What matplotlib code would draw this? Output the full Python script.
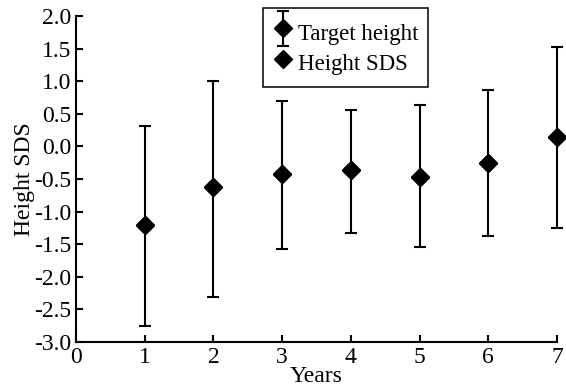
import matplotlib
matplotlib.use('Agg')
import matplotlib.pyplot as plt
from matplotlib.container import ErrorbarContainer
from matplotlib.legend_handler import HandlerErrorbar

plt.rcParams['font.family'] = ['Liberation Serif', 'DejaVu Serif']
plt.rcParams['axes.unicode_minus'] = False

years = [1, 2, 3, 4, 5, 6, 7]
height_sds = [-1.20, -0.63, -0.42, -0.36, -0.47, -0.26, 0.14]
target_low = [-2.75, -2.31, -1.57, -1.33, -1.55, -1.38, -1.25]
target_high = [0.32, 1.01, 0.69, 0.56, 0.63, 0.87, 1.52]

yerr_low = [m - lo for m, lo in zip(height_sds, target_low)]
yerr_high = [hi - m for m, hi in zip(height_sds, target_high)]

fig = plt.figure(figsize=(5.66, 3.87), dpi=100)
ax = fig.add_axes([0.1343, 0.1163, 0.8497, 0.8424])

eb = ax.errorbar(years, height_sds, yerr=[yerr_low, yerr_high], fmt='D', color='black',
                 ms=8.7, elinewidth=1.5, capsize=4, capthick=1.5, label='Target height',
                 clip_on=False)
pts, = ax.plot(years, height_sds, 'D', color='black', ms=8.7, linestyle='none',
               label='Height SDS', clip_on=False)

ax.set_xlim(0, 7)
ax.set_ylim(-3.0, 2.0)
ax.set_xticks(range(0, 8))
ax.set_yticks([-3.0, -2.5, -2.0, -1.5, -1.0, -0.5, 0.0, 0.5, 1.0, 1.5, 2.0])
ax.yaxis.set_major_formatter(matplotlib.ticker.FormatStrFormatter('%.1f'))

for side in ['top', 'right']:
    ax.spines[side].set_visible(False)
for side in ['left', 'bottom']:
    ax.spines[side].set_linewidth(1.5)

ax.tick_params(direction='in', length=5, width=1.5, labelsize=17, pad=3.5)
ax.set_xlabel('Years', fontsize=17, labelpad=-1)
ax.set_ylabel('Height SDS', fontsize=17, labelpad=-1)

leg = ax.legend([eb, pts], ['Target height', 'Height SDS'],
                loc='upper left', bbox_to_anchor=(0.4647, 0.979),
                bbox_transform=fig.transFigure, borderaxespad=0,
                fontsize=16.5, fancybox=False, edgecolor='black', framealpha=1,
                handlelength=0.95, handleheight=1.6, handletextpad=0.18,
                borderpad=0.4, labelspacing=0.05,
                handler_map={ErrorbarContainer: HandlerErrorbar(yerr_size=0.78)})
leg.get_frame().set_linewidth(1.1)

fig.savefig('out.png', dpi=100)
